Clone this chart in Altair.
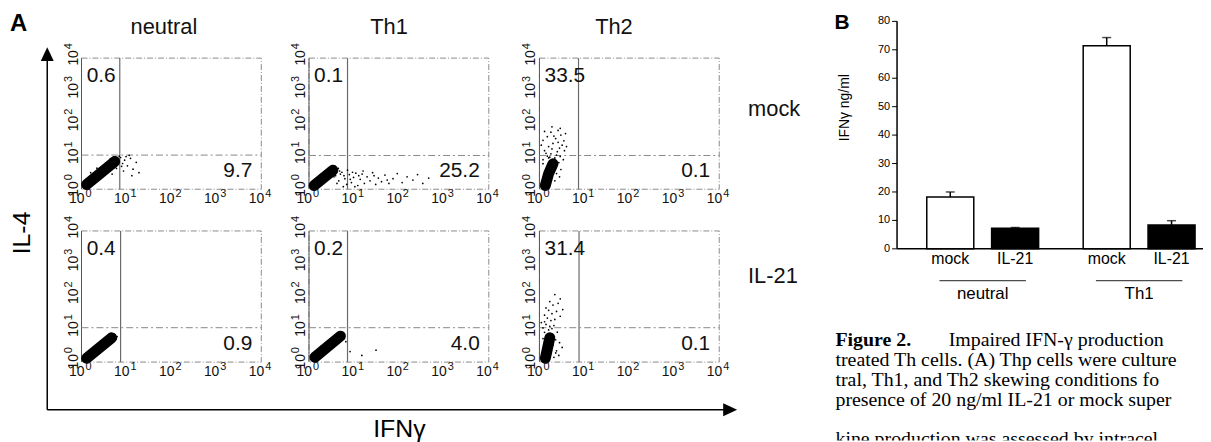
import altair as alt
import pandas as pd

# ---------------- data ----------------
conditions = ["neutral", "Th1", "Th2"]
treatments = ["mock", "IL-21"]
decades = [1, 10, 100, 1000, 10000]
decade_exponents = ["0", "1", "2", "3", "4"]

# quadrant percentages, panels in reading order (mock row, then IL-21 row)
pct_upper_left = ["0.6", "0.1", "33.5", "0.4", "0.2", "31.4"]
pct_lower_right = ["9.7", "25.2", "0.1", "0.9", "4.0", "0.1"]

# quadrant gates (IFNg, IL-4)
gate_x = [7.1, 7.2, 7.4, 7.4, 7.2, 7.6]
gate_y = [11.0, 10.7, 10.7, 11.2, 11.2, 11.2]

# dense cores of the dot clouds (centre line of the dense region)
core_x = [[1.3, 5.5], [1.3, 3.4], [1.35, 1.6, 2.0], [1.3, 4.7], [1.35, 5.0], [1.35, 1.5, 1.7]]
core_y = [[1.4, 7.0], [1.3, 3.8], [1.3, 3.0, 6.0], [1.3, 5.5], [1.4, 6.2], [1.3, 2.5, 5.5]]

# scattered events
dots_x = [
    [6.3, 7.4, 8.2, 9.1, 10.5, 12.3, 14.0, 16.5, 8.6, 6.0, 4.4, 3.0, 1.6, 6.9, 5.2, 19.0, 11.5, 7.8, 2.2, 13.2, 9.8, 4.8],
    [3.9, 4.6, 5.4, 6.3, 6.9, 7.9, 8.8, 9.8, 11.0, 12.2, 13.8, 15.2, 17.1, 19.6, 22.8, 26.0, 30.5, 35.0, 41.0,
     49.0, 60.0, 74.0, 92.0, 118.0, 152.0, 205.0, 260.0, 340.0, 460.0, 3.2, 2.2, 4.5, 5.8, 7.2, 10.5, 16.0, 28.0, 55.0,
     4.2, 5.0, 6.0, 4.8, 8.3, 9.3, 3.6, 12.8],
    [1.2, 1.5, 1.8, 2.2, 1.3, 2.5, 1.6, 2.0, 1.2, 2.8, 3.2, 1.5, 2.3, 3.0, 1.8, 2.6, 3.5, 1.4, 2.4, 3.4, 1.1, 2.9,
     3.8, 1.7, 2.7, 3.0, 1.9, 2.1, 1.3, 3.6, 2.6, 1.6, 2.9, 1.9, 4.0, 2.4, 2.8, 1.2, 2.2, 1.7],
    [5.4, 4.3, 3.0, 5.9, 2.0, 6.2],
    [5.8, 6.1, 4.6, 2.6, 8.2, 15.0, 31.0, 6.6, 3.8, 1.9],
    [1.2, 1.5, 1.8, 1.3, 1.6, 1.2, 1.7, 1.4, 2.1, 1.3, 1.8, 1.5, 2.2, 1.3, 1.9, 1.6, 2.4, 1.4, 2.0, 2.6, 1.7, 2.9,
     2.3, 2.8, 2.5, 2.9, 2.4, 2.7, 2.1, 3.2, 1.1, 1.9, 3.3, 2.2, 2.0, 2.3, 1.8],
]
dots_y = [
    [8.4, 9.3, 6.1, 7.7, 5.2, 8.8, 4.1, 6.6, 3.6, 4.3, 8.6, 5.2, 3.2, 10.2, 9.6, 3.2, 10.8, 5.0, 4.4, 2.6, 9.9, 2.9],
    [2.6, 1.8, 3.3, 2.1, 1.4, 2.8, 1.6, 2.3, 3.1, 1.3, 2.0, 2.9, 1.5, 2.4, 1.8, 3.2, 1.4, 2.2, 1.7,
     2.7, 1.5, 2.1, 3.0, 1.6, 2.4, 1.9, 2.8, 1.5, 2.2, 3.7, 3.4, 4.3, 1.2, 3.8, 1.2, 3.6, 2.6, 1.9,
     1.5, 2.9, 2.6, 3.6, 2.0, 3.3, 2.4, 2.6],
    [8.0, 10.2, 12.0, 9.0, 15.0, 14.0, 20.0, 25.0, 31.0, 18.0, 22.0, 40.0, 35.0, 45.0, 55.0, 62.0, 30.0, 12.5, 11.0,
     8.0, 22.0, 72.0, 50.0, 7.0, 6.5, 4.0, 17.0, 42.0, 58.0, 15.0, 27.0, 9.0, 10.0, 80.0, 20.0, 3.0, 2.4, 6.0, 1.8, 9.5],
    [6.6, 6.4, 4.1, 5.1, 2.9, 6.0],
    [7.1, 5.6, 7.0, 3.6, 2.1, 1.6, 2.3, 4.2, 5.8, 3.1],
    [5.2, 6.1, 7.2, 8.1, 9.6, 11.0, 12.3, 14.1, 13.0, 17.0, 18.5, 22.0, 20.0, 27.0, 30.0, 38.0, 35.0, 45.0, 55.0,
     62.0, 70.0, 85.0, 4.8, 3.9, 8.2, 25.0, 2.2, 1.6, 1.4, 2.8, 16.0, 10.5, 40.0, 115.0, 3.3, 1.9, 4.0],
]

# panel B: IFN-gamma ELISA
bar_groups = ["neutral", "neutral", "Th1", "Th1"]
bar_treatments = ["mock", "IL-21", "mock", "IL-21"]
bar_means = [18.2, 7.2, 71.4, 8.4]
bar_errors = [1.8, 0.3, 2.9, 1.5]
group_labels = ["neutral", "Th1"]
ifn_ticks = [0, 10, 20, 30, 40, 50, 60, 70, 80]

caption_heading = "Figure 2."
caption_first = "Impaired IFN-γ production"
caption_lines = [
    "treated Th cells. (A) Thp cells were culture",
    "tral, Th1, and Th2 skewing conditions fo",
    "presence of 20 ng/ml IL-21 or mock super",
    "kine production was assessed by intracel",
]

# ---------------- layout (page pixels; the page has an 8px margin) ----------------
SANS = "Liberation Sans"
SERIF = "Liberation Serif"
M = 8
W, H = 1203, 434


def cx(v):
    return v - M


panel_left = [82, 311, 543]
panel_top = [57, 231]
PW, PH = 181, 132


def one(**cols):
    return pd.DataFrame({k: [v] for k, v in cols.items()})


def panel(i):
    r, c = divmod(i, 3)
    L, T = panel_left[c], panel_top[r]
    xs = alt.Scale(type="log", domain=[decades[0], decades[-1]], range=[cx(L), cx(L + PW)], nice=False)
    ys = alt.Scale(type="log", domain=[decades[0], decades[-1]], range=[cx(T + PH), cx(T)], nice=False)

    def X(f):
        return alt.X(f"{f}:Q", scale=xs, axis=None)

    def Y(f):
        return alt.Y(f"{f}:Q", scale=ys, axis=None)

    ext = one(a=decades[0], b=decades[-1], g=gate_x[i], h=gate_y[i])
    core = pd.DataFrame({"x": core_x[i], "y": core_y[i], "k": list(range(len(core_x[i])))})
    pts = pd.DataFrame({"x": dots_x[i], "y": dots_y[i]})
    ticks = pd.DataFrame({"v": decades, "e": decade_exponents})
    lab = dict(font=SANS, color="#111")
    return alt.layer(
        alt.Chart(ext).mark_rect(fillOpacity=0, stroke="#8a8a8a", strokeDash=[6, 2, 1, 2], strokeWidth=1).encode(
            x=X("a"), x2=alt.X2("b:Q"), y=Y("a"), y2=alt.Y2("b:Q")),
        alt.Chart(ext).mark_rule(color="#555", strokeWidth=1).encode(x=X("a"), y=Y("a"), y2=alt.Y2("b:Q")),
        alt.Chart(ext).mark_rule(color="#6a6a6a", strokeWidth=1.2).encode(x=X("g"), y=Y("a"), y2=alt.Y2("b:Q")),
        alt.Chart(ext).mark_rule(color="#888", strokeWidth=1, strokeDash=[7, 3, 2, 3]).encode(
            x=X("a"), x2=alt.X2("b:Q"), y=Y("h")),
        alt.Chart(core).mark_line(color="black", strokeWidth=11, strokeCap="round", strokeJoin="round").encode(
            x=X("x"), y=Y("y"), order="k:Q"),
        alt.Chart(pts).mark_circle(size=3, color="black", opacity=1).encode(x=X("x"), y=Y("y")),
        alt.Chart(one(x=1.3, y=2850, t=pct_upper_left[i])).mark_text(
            fontSize=21, align="left", baseline="middle", **lab).encode(x=X("x"), y=Y("y"), text="t:N"),
        alt.Chart(one(x=6300, y=3.5, t=pct_lower_right[i])).mark_text(
            fontSize=21, align="right", baseline="middle", **lab).encode(x=X("x"), y=Y("y"), text="t:N"),
        # x-axis tick labels 10^n
        alt.Chart(ticks).mark_text(fontSize=14, align="right", baseline="alphabetic", dx=3, **lab).encode(
            x=X("v"), y=alt.value(cx(T + PH + 14)), text=alt.value("10")),
        alt.Chart(ticks).mark_text(fontSize=11, align="left", baseline="alphabetic", dx=4, **lab).encode(
            x=X("v"), y=alt.value(cx(T + PH + 8)), text="e:N"),
        # y-axis tick labels 10^n (rotated)
        alt.Chart(ticks).mark_text(fontSize=14, angle=270, align="right", baseline="alphabetic", dx=8, **lab).encode(
            x=alt.value(cx(L - 4)), y=Y("v"), text=alt.value("10")),
        alt.Chart(ticks).mark_text(fontSize=11, angle=270, align="left", baseline="alphabetic", dx=9, dy=-6,
                                   **lab).encode(
            x=alt.value(cx(L - 4)), y=Y("v"), text="e:N"),
    )


panels = [panel(i) for i in range(6)]

col_titles = alt.Chart(pd.DataFrame({"c": conditions})).mark_text(
    font=SANS, fontSize=22, align="center", baseline="alphabetic", color="#111").encode(
    x=alt.X("c:N", sort=conditions, axis=None,
            scale=alt.Scale(type="point", domain=conditions, range=[cx(165), cx(618)], padding=0)),
    y=alt.value(cx(33)), text="c:N")

row_titles = alt.Chart(pd.DataFrame({"t": treatments})).mark_text(
    font=SANS, fontSize=22, align="left", baseline="alphabetic", color="#111").encode(
    y=alt.Y("t:N", sort=treatments, axis=None,
            scale=alt.Scale(type="point", domain=treatments, range=[cx(115), cx(283)], padding=0)),
    x=alt.value(cx(753)), text="t:N")

deco = [
    alt.Chart(one(t="A")).mark_text(font=SANS, fontSize=24, fontWeight="bold", align="left",
                                    baseline="alphabetic", color="black").encode(
        x=alt.value(cx(10)), y=alt.value(cx(29.5)), text="t:N"),
    alt.Chart(one(t="IL-4")).mark_text(font=SANS, fontSize=25, angle=270, align="center",
                                       baseline="middle", color="black").encode(
        x=alt.value(cx(22)), y=alt.value(cx(233)), text="t:N"),
    alt.Chart(one(t="IFNγ")).mark_text(font=SANS, fontSize=25, align="center",
                                       baseline="alphabetic", color="black").encode(
        x=alt.value(cx(402)), y=alt.value(cx(438)), text="t:N"),
    alt.Chart(one(t="v")).mark_rule(color="black", strokeWidth=1.5).encode(
        x=alt.value(cx(47.5)), y=alt.value(cx(54)), y2=alt.value(cx(411))),
    alt.Chart(one(t="h")).mark_rule(color="black", strokeWidth=1.5).encode(
        x=alt.value(cx(47.5)), x2=alt.value(cx(735)), y=alt.value(cx(411))),
    alt.Chart(one(t="up")).mark_point(shape="M0,-1L0.93,1L-0.93,1Z", size=196, filled=True,
                                      opacity=1, color="black").encode(
        x=alt.value(cx(47.5)), y=alt.value(cx(53))),
    alt.Chart(one(t="right")).mark_point(shape="M1,0L-1,0.93L-1,-0.93Z", size=196, filled=True,
                                         opacity=1, color="black").encode(
        x=alt.value(cx(735)), y=alt.value(cx(411))),
]

# ---------------- panel B ----------------
bar_df = pd.DataFrame({"group": bar_groups, "treat": bar_treatments, "mean": bar_means, "err": bar_errors})
B_LEFT, B_RIGHT, B_TOP, B_BOTTOM = 903, 1203, 20, 249
xb = alt.X("group:N", sort=group_labels, axis=None,
           scale=alt.Scale(domain=group_labels, range=[cx(B_LEFT), cx(B_RIGHT)],
                           paddingInner=0.285, paddingOuter=0.095, align=1))
xo = alt.XOffset("treat:N", sort=treatments,
                 scale=alt.Scale(domain=treatments, paddingInner=0.275, paddingOuter=0))
yscale = alt.Scale(domain=[ifn_ticks[0], ifn_ticks[-1]], range=[cx(B_BOTTOM), cx(B_TOP)], nice=False)


def YB(f):
    return alt.Y(f"{f}:Q", scale=yscale, axis=None)


base = alt.Chart(bar_df).transform_calculate(top="datum.mean + datum.err")
tick_df = pd.DataFrame({"v": ifn_ticks})
gdf = pd.DataFrame({"group": group_labels})
bar_layer = alt.layer(
    base.mark_bar(stroke="black", strokeWidth=1.5).encode(
        x=xb, xOffset=xo, y=YB("mean"),
        color=alt.Color("treat:N", scale=alt.Scale(domain=treatments, range=["white", "black"]), legend=None)),
    base.mark_rule(color="black", strokeWidth=1.5).encode(x=xb, xOffset=xo, y=YB("mean"), y2=alt.Y2("top:Q")),
    base.mark_tick(orient="horizontal", size=9, thickness=1.5, color="black").encode(
        x=xb, xOffset=xo, y=YB("top")),
    base.mark_text(font=SANS, fontSize=16, baseline="middle", color="black").encode(
        x=xb, xOffset=xo, y=alt.value(cx(259)), text="treat:N"),
    alt.Chart(gdf).mark_tick(orient="horizontal", size=87, thickness=1.2, color="black").encode(
        x=xb, y=alt.value(cx(281))),
    alt.Chart(gdf).mark_text(font=SANS, fontSize=17, baseline="middle", color="black").encode(
        x=xb, y=alt.value(cx(294)), text="group:N"),
    # y axis: domain, ticks, labels
    alt.Chart(one(a=ifn_ticks[0], b=ifn_ticks[-1])).mark_rule(color="black", strokeWidth=1.5).encode(
        x=alt.value(cx(B_LEFT)), y=YB("a"), y2=alt.Y2("b:Q")),
    alt.Chart(tick_df).mark_rule(color="black", strokeWidth=1).encode(
        x=alt.value(cx(B_LEFT - 5)), x2=alt.value(cx(B_LEFT)), y=YB("v")),
    alt.Chart(tick_df).mark_text(font=SANS, fontSize=11, align="right", baseline="middle", color="black").encode(
        x=alt.value(cx(B_LEFT - 7)), y=YB("v"), text="v:Q"),
    # x axis line
    alt.Chart(one(a=ifn_ticks[0])).mark_rule(color="black", strokeWidth=1.5).encode(
        x=alt.value(cx(B_LEFT)), x2=alt.value(cx(1211)), y=YB("a")),
)

b_deco = [
    alt.Chart(one(t="B")).mark_text(font=SANS, fontSize=21, fontWeight="bold", align="left",
                                    baseline="alphabetic", color="black").encode(
        x=alt.value(cx(840)), y=alt.value(cx(28)), text="t:N"),
    alt.Chart(one(t="IFNγ ng/ml")).mark_text(font=SANS, fontSize=14, angle=270, align="center",
                                             baseline="middle", color="black").encode(
        x=alt.value(cx(851)), y=alt.value(cx(107)), text="t:N"),
]

# ---------------- caption ----------------
# line baselines: four lines 20px apart, the last one lower and cut by the page edge
cap_scale = alt.Scale(type="linear", domain=[0, 3, 4], range=[cx(347), cx(407), cx(446)])
cap_df = pd.DataFrame({"row": [1, 2, 3, 4], "t": caption_lines})
serif = dict(font=SERIF, fontSize=20, align="left", baseline="alphabetic", color="black", clip=True)
caption = alt.layer(
    alt.Chart(one(row=0, t=caption_heading)).mark_text(fontWeight="bold", **serif).encode(
        x=alt.value(cx(841)), y=alt.Y("row:Q", scale=cap_scale, axis=None), text="t:N"),
    alt.Chart(one(row=0, t=caption_first)).mark_text(**serif).encode(
        x=alt.value(cx(955)), y=alt.Y("row:Q", scale=cap_scale, axis=None), text="t:N"),
    alt.Chart(cap_df).mark_text(**serif).encode(
        x=alt.value(cx(841)), y=alt.Y("row:Q", scale=cap_scale, axis=None), text="t:N"),
)

chart = alt.layer(
    *panels, col_titles, row_titles, *deco, bar_layer, *b_deco, caption
).resolve_scale(
    x="independent", y="independent", color="independent", xOffset="independent"
).properties(
    width=W, height=H, padding=0, autosize=alt.AutoSizeParams(type="none")
).configure_view(stroke="transparent")

chart.save("out.html", embed_options={"renderer": "svg", "actions": False})
